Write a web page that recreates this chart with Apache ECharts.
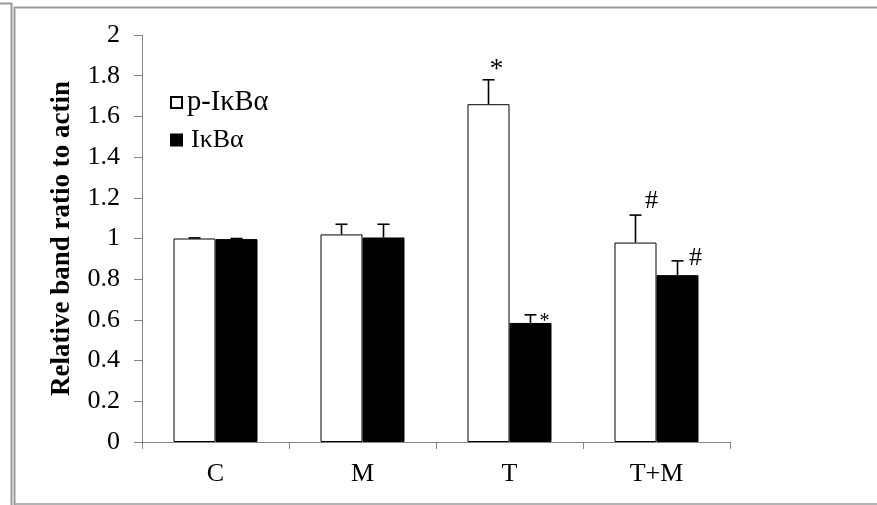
<!DOCTYPE html>
<html>
<head>
<meta charset="utf-8">
<script src="https://cdn.jsdelivr.net/npm/echarts@6/dist/echarts.min.js"></script>
<style>
  html, body { margin: 0; padding: 0; background: #fff; }
  #chart { width: 877px; height: 505px; }
</style>
</head>
<body>
<div id="chart"></div>
<script>
// Groups and measured band ratios (mean and SEM)
const categories = ['C', 'M', 'T', 'T+M'];
const pIkbaMean = [1.0, 1.02, 1.66, 0.98];
const pIkbaErr = [0.003, 0.05, 0.12, 0.135];
const ikbaMean = [0.997, 1.005, 0.585, 0.82];
const ikbaErr = [0.003, 0.065, 0.04, 0.07];
// Significance marks: * vs control, # vs T
const pIkbaSig = ['', '', '*', '#'];
const ikbaSig = ['', '', '*', '#'];

const FONT = '"Liberation Serif", "Times New Roman", serif';
const BAR_W = 42;
const AXIS_GREY = '#868686';

// Placement of each significance mark relative to the error-bar cap: [dx, dy, fontSize]
const pSigPlace = [null, null, [8, -10, 28], [16, -14, 26]];
const iSigPlace = [null, null, [14, 7, 20], [18, -3, 26]];

function errorBars(side, sig, place) {
  return function (params, api) {
    const i = api.value(0);
    const v = api.value(1);
    const e = api.value(2);
    const base = api.coord([i, v]);
    const top = api.coord([i, v + e]);
    const x = base[0] + side * BAR_W / 2;
    const style = { stroke: '#000', lineWidth: 1.6 };
    const children = [
      { type: 'line', shape: { x1: x, y1: base[1], x2: x, y2: top[1] }, style: style },
      { type: 'line', shape: { x1: x - 6, y1: top[1], x2: x + 6, y2: top[1] }, style: style }
    ];
    const s = sig[params.dataIndex];
    const p = place[params.dataIndex];
    if (s && p) {
      children.push({
        type: 'text',
        x: x + p[0],
        y: top[1] + p[1],
        style: {
          text: s, fill: '#000', font: p[2] + 'px ' + FONT,
          align: 'center', verticalAlign: 'middle'
        }
      });
    }
    return { type: 'group', children: children };
  };
}

const chart = echarts.init(document.getElementById('chart'), null, { renderer: 'canvas' });

chart.setOption({
  animation: false,
  backgroundColor: '#fff',
  textStyle: { fontFamily: FONT },
  grid: { left: 142, right: 147, top: 35, bottom: 63, containLabel: false },
  legend: {
    orient: 'vertical',
    left: 170,
    top: 88,
    padding: 0,
    itemWidth: 11,
    itemHeight: 11,
    itemGap: 10,
    itemTextGap: 3,
    icon: 'rect',
    textStyle: { fontFamily: FONT, fontSize: 26, color: '#000' },
    data: [
      { name: 'p-IκBα', textStyle: { fontFamily: FONT, fontSize: 28.5, color: '#000' } },
      { name: 'IκBα', textStyle: { fontFamily: FONT, fontSize: 26, color: '#000', padding: [0, 0, 0, 4] } }
    ]
  },
  xAxis: {
    type: 'category',
    data: categories,
    axisLine: { lineStyle: { color: AXIS_GREY, width: 1 } },
    axisTick: { show: true, length: 7, alignWithLabel: false, lineStyle: { color: AXIS_GREY } },
    axisLabel: { fontFamily: FONT, fontSize: 26, color: '#000', margin: 19 },
    splitLine: { show: false }
  },
  yAxis: {
    type: 'value',
    min: 0,
    max: 2,
    interval: 0.2,
    name: 'Relative band ratio to actin',
    nameLocation: 'middle',
    nameGap: 66,
    nameTextStyle: { fontFamily: FONT, fontSize: 27, fontWeight: 'bold', color: '#000' },
    axisLine: { show: true, lineStyle: { color: AXIS_GREY, width: 1 } },
    axisTick: { show: true, length: 8, lineStyle: { color: AXIS_GREY } },
    axisLabel: { fontFamily: FONT, fontSize: 26, color: '#000', margin: 22 },
    splitLine: { show: false }
  },
  series: [
    {
      name: 'p-IκBα',
      type: 'bar',
      data: pIkbaMean,
      barWidth: BAR_W,
      barGap: '0%',
      itemStyle: { color: '#fff', borderColor: '#000', borderWidth: 1 }
    },
    {
      name: 'IκBα',
      type: 'bar',
      data: ikbaMean,
      barWidth: BAR_W,
      barGap: '0%',
      itemStyle: { color: '#000', borderColor: '#000', borderWidth: 1 }
    },
    {
      name: 'p-IκBα error',
      type: 'custom',
      z: 5,
      renderItem: errorBars(-1, pIkbaSig, pSigPlace),
      encode: { x: 0, y: 1 },
      data: categories.map((c, i) => [i, pIkbaMean[i], pIkbaErr[i]])
    },
    {
      name: 'IκBα error',
      type: 'custom',
      z: 5,
      renderItem: errorBars(1, ikbaSig, iSigPlace),
      encode: { x: 0, y: 1 },
      data: categories.map((c, i) => [i, ikbaMean[i], ikbaErr[i]])
    }
  ],
  graphic: [
    // outer frame
    { type: 'polyline', silent: true, shape: { points: [[0, 3.5], [11.5, 3.5], [11.5, 505]] }, style: { stroke: '#9a9a9a', lineWidth: 2, fill: null } },
    { type: 'polyline', silent: true, shape: { points: [[14.5, 505], [14.5, 7.5], [877, 7.5]] }, style: { stroke: '#9a9a9a', lineWidth: 2, fill: null } },
    { type: 'line', silent: true, shape: { x1: 14, y1: 504, x2: 877, y2: 504 }, style: { stroke: '#9a9a9a', lineWidth: 1.5 } }
  ]
});
</script>
</body>
</html>
